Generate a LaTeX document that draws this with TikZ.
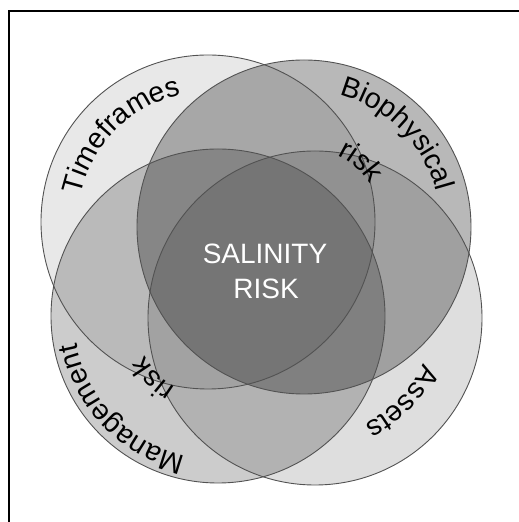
\documentclass[tikz,border=0pt]{standalone}
\usepackage{fontspec}
\setmainfont{Liberation Sans}
\usetikzlibrary{decorations.text}
\tikzset{
  venn/.style={fill=black},
  rim/.style={draw=black!68, line width=0.9pt},
  frameline/.style={draw=black, line width=1.2pt},
  centretext/.style={text=white, font=\fontsize{28}{28}\selectfont, anchor=base},
  arclabel/.style={decoration={text along path, text align=center, text={|\fontsize{28.5}{28.5}\selectfont|#1}}, decorate},
}
\begin{document}
\begin{tikzpicture}[x=1pt,y=1pt]
\useasboundingbox (0,0) rectangle (519,522);
\coordinate (T) at (208,300);
\coordinate (B) at (304,295);
\coordinate (M) at (218,206);
\coordinate (A) at (315,204);
\coordinate (FL) at (9,0);
\coordinate (FC) at (9,511);
\coordinate (FR) at (519,511);
% fills
\fill[venn, opacity=0.09] (T) circle[radius=167];
\fill[venn, opacity=0.28] (B) circle[radius=167];
\fill[venn, opacity=0.20] (M) circle[radius=167];
\fill[venn, opacity=0.13] (A) circle[radius=167];
% outlines
\foreach \c in {T,B,M,A} \draw[rim] (\c) circle[radius=167];
% frame
\draw[frameline] (FL) -- (FC) -- (FR);
% centre text
\node[centretext] (sal) at (265,258) {SALINITY};
\node[centretext] (risk) at (266,223) {RISK};
% arc labels
\path[arclabel=Timeframes] ([shift={(185:130)}]T) arc[start angle=185, end angle=85, radius=130];
\path[arclabel=Biophysical] ([shift={(95:137)}]B) arc[start angle=95, end angle=-5, radius=137];
\path[arclabel=risk] ([shift={(79:79)}]B) arc[start angle=79, end angle=19, radius=79];
\path[arclabel=Management] ([shift={(274:144)}]M) arc[start angle=274, end angle=174, radius=144];
\path[arclabel=risk] ([shift={(254:83)}]M) arc[start angle=254, end angle=194, radius=83];
\path[arclabel=Assets] ([shift={(6:117)}]A) arc[start angle=6, end angle=-94, radius=117];
\end{tikzpicture}
\end{document}
